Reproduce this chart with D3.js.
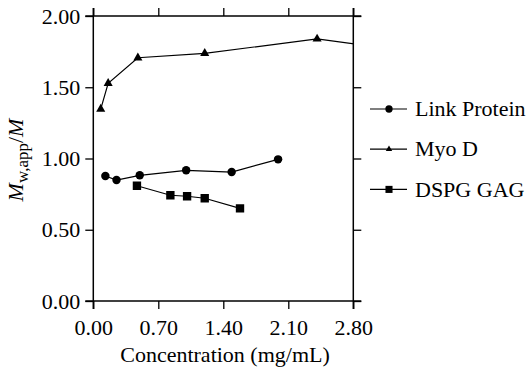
<!DOCTYPE html>
<html lang="en">
<head>
    <meta charset="UTF-8">
    <script src="https://d3js.org/d3.v7.min.js"></script>
    <title>Mw,app/M vs concentration</title>
</head>
<body style="margin:0;padding:0;background:#fff">
    <div id="chart"></div>
    <script>

        // values
        let link_conc = [0.13, 0.25, 0.50, 1.00, 1.49, 1.99];
        let link_ratio = [0.877, 0.849, 0.882, 0.917, 0.905, 0.994];

        let myo_conc = [0.08, 0.16, 0.48, 1.20, 2.41, 3.00];
        let myo_ratio = [1.347, 1.528, 1.707, 1.738, 1.839, 1.788];

        let dspg_conc = [0.47, 0.83, 1.01, 1.20, 1.58];
        let dspg_ratio = [0.809, 0.742, 0.735, 0.721, 0.650];

        let x_ticks = [0.00, 0.70, 1.40, 2.10, 2.80];
        let y_ticks = [0.00, 0.50, 1.00, 1.50, 2.00];

        let series = [
            { name: 'Link Protein', x: link_conc, y: link_ratio, symbol: d3.symbolCircle, size: 56, legend_size: 42 },
            { name: 'Myo D', x: myo_conc, y: myo_ratio, symbol: d3.symbolTriangle, size: 36, legend_size: 18 },
            { name: 'DSPG GAG', x: dspg_conc, y: dspg_ratio, symbol: d3.symbolSquare, size: 70, legend_size: 50 },
        ];

        let width = 528, height = 371;
        let plot_l = 93.3, plot_r = 353.3, plot_t = 16, plot_b = 301;
        let ext = 8;

        // serif text everywhere, forced so nothing else can override it
        function serif_text(sel, size) {
            return sel
                .style('font-family', '"Liberation Serif", "Times New Roman", serif', 'important')
                .style('font-size', size + 'px', 'important');
        }

        let svg = d3.select('#chart').append('svg')
            .attr('width', width).attr('height', height);

        let x = d3.scaleLinear().domain([0, 2.8]).range([plot_l, plot_r]);
        let y = d3.scaleLinear().domain([0, 2.0]).range([plot_b, plot_t]);

        svg.append('clipPath').attr('id', 'plot_clip')
            .append('rect')
            .attr('x', plot_l).attr('y', plot_t)
            .attr('width', plot_r - plot_l).attr('height', plot_b - plot_t);

        // frame: every side with outward ticks, lines run past the corners
        let fmt = d3.format('.2f');
        let bottom_axis = svg.append('g').attr('transform', `translate(0,${plot_b})`)
            .call(d3.axisBottom(x).tickValues(x_ticks).tickFormat(fmt).tickSize(ext));
        let left_axis = svg.append('g').attr('transform', `translate(${plot_l},0)`)
            .call(d3.axisLeft(y).tickValues(y_ticks).tickFormat(fmt).tickSize(ext).tickPadding(5));
        let top_axis = svg.append('g').attr('transform', `translate(0,${plot_t})`)
            .call(d3.axisTop(x).tickValues(x_ticks).tickFormat('').tickSize(ext));
        let right_axis = svg.append('g').attr('transform', `translate(${plot_r},0)`)
            .call(d3.axisRight(y).tickValues(y_ticks).tickFormat('').tickSize(ext));

        [bottom_axis, left_axis, top_axis, right_axis].forEach(g => {
            g.attr('font-family', null).attr('font-size', null);
            g.select('.domain').remove();
            g.selectAll('line').attr('stroke', '#000').attr('stroke-width', 1.3);
            serif_text(g.selectAll('text'), 22).attr('fill', '#000');
        });
        bottom_axis.selectAll('text').attr('y', 34).attr('dy', 0);

        let frame = [
            [plot_l - ext, plot_t, plot_r + ext, plot_t],
            [plot_l - ext, plot_b, plot_r + ext, plot_b],
            [plot_l, plot_t - ext, plot_l, plot_b + ext],
            [plot_r, plot_t - ext, plot_r, plot_b + ext],
        ];
        svg.selectAll('line.frame')
            .data(frame)
            .join('line')
            .attr('class', 'frame')
            .attr('x1', d => d[0]).attr('y1', d => d[1])
            .attr('x2', d => d[2]).attr('y2', d => d[3])
            .attr('stroke', '#000')
            .attr('stroke-width', 1.5);

        // data
        let line = d3.line().x(d => x(d[0])).y(d => y(d[1]));
        let plot = svg.append('g').attr('clip-path', 'url(#plot_clip)');

        series.forEach(s => {
            let pts = s.x.map((v, i) => [v, s.y[i]]);
            plot.append('path')
                .attr('d', line(pts))
                .attr('fill', 'none')
                .attr('stroke', '#000')
                .attr('stroke-width', 1.2);
            plot.selectAll(null)
                .data(pts)
                .join('path')
                .attr('transform', d => `translate(${x(d[0])},${y(d[1])})`)
                .attr('d', d3.symbol().type(s.symbol).size(s.size))
                .attr('fill', '#000');
        });

        // legend
        let legend = svg.append('g').attr('transform', 'translate(370,109)');
        let rows = legend.selectAll('g')
            .data(series)
            .join('g')
            .attr('transform', (d, i) => `translate(0,${i * 40.2})`);
        rows.append('line')
            .attr('x1', 0).attr('x2', 37)
            .attr('stroke', '#000').attr('stroke-width', 1.2);
        rows.append('path')
            .attr('transform', 'translate(19,0)')
            .attr('d', d => d3.symbol().type(d.symbol).size(d.legend_size)())
            .attr('fill', '#000');
        serif_text(rows.append('text'), 22)
            .attr('x', 45).attr('y', 0).attr('dy', '0.33em')
            .text(d => d.name);

        // axis titles
        serif_text(svg.append('text'), 22)
            .attr('x', 225).attr('y', 362)
            .attr('text-anchor', 'middle')
            .text('Concentration (mg/mL)');

        let ytitle = serif_text(svg.append('text'), 22)
            .attr('transform', `translate(23,160) rotate(-90)`)
            .attr('text-anchor', 'middle');
        ytitle.append('tspan').style('font-style', 'italic').text('M');
        ytitle.append('tspan').attr('dy', 5).style('font-size', '17px').text('w,app');
        ytitle.append('tspan').attr('dy', -5).text('/');
        ytitle.append('tspan').style('font-style', 'italic').text('M');

    </script>
</body>
</html>
